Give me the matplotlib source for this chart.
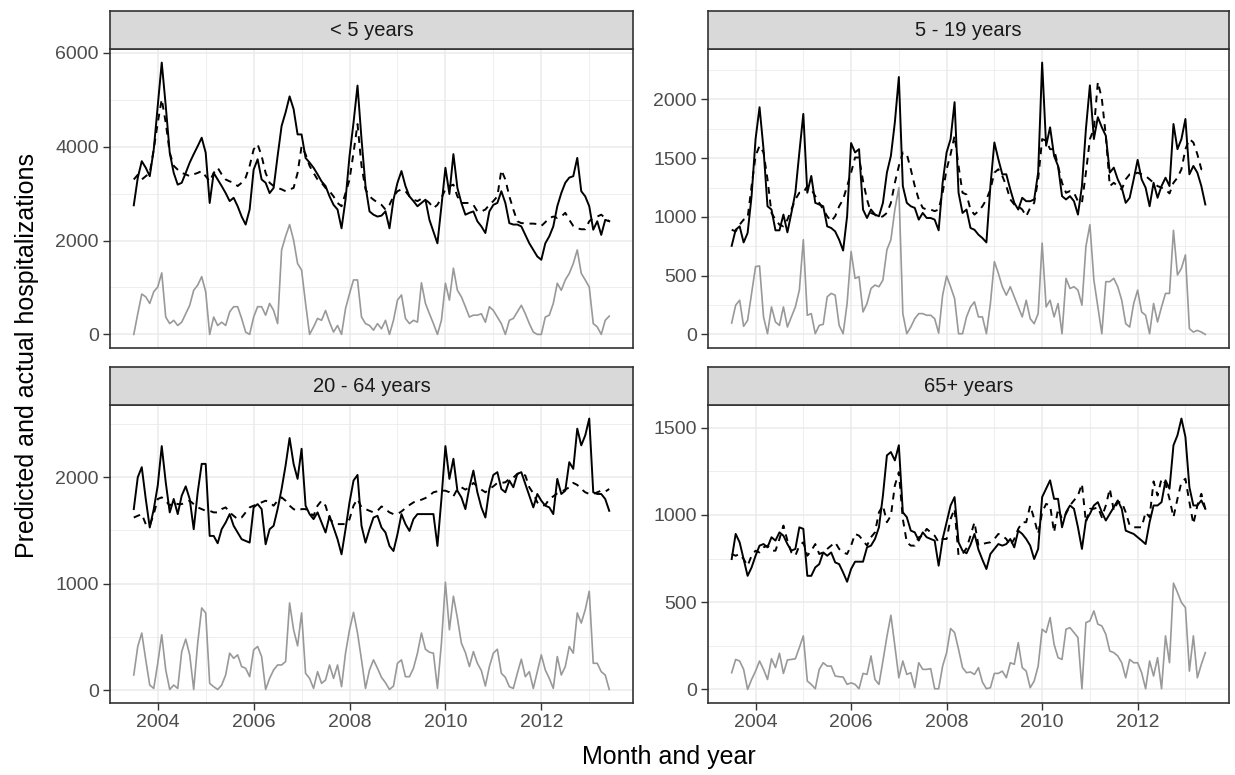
import numpy as np
import pandas as pd
import matplotlib
matplotlib.use("Agg")
import matplotlib.pyplot as plt
from matplotlib.ticker import FixedLocator, NullFormatter

plt.rcParams['font.family'] = ['Liberation Sans', 'DejaVu Sans']

# monthly series, Jul 2003 - Jun 2013
dates = pd.date_range("2003-07-01", periods=120, freq="MS")
x = dates.year + (dates.month - 1) / 12.0

panels = ["< 5 years", "5 - 19 years", "20 - 64 years", "65+ years"]

u5_actual = [2750, 3335, 3690, 3550, 3370, 3940, 4870, 5790, 4870, 3870,
             3440, 3190, 3230, 3440, 3660, 3840, 4010, 4190, 3870, 2800,
             3440, 3300, 3160, 3010, 2840, 2910, 2730, 2510, 2340, 2660,
             3510, 3730, 3300, 3230, 3010, 3120, 3800, 4440, 4730, 5070,
             4800, 4260, 4260, 3760, 3660, 3550, 3410, 3260, 3160, 2940,
             2760, 2660, 2260, 2870, 3800, 4510, 5300, 4160, 3160, 2620,
             2550, 2510, 2530, 2620, 2260, 2870, 3230, 3480, 3160, 2940,
             2840, 2730, 2800, 2870, 2440, 2190, 1940, 2730, 3550, 2990,
             3840, 3120, 2800, 2550, 2590, 2620, 2410, 2300, 2160, 2620,
             2760, 2800, 3050, 2800, 2370, 2340, 2340, 2300, 2120, 1940,
             1800, 1660, 1590, 1940, 2090, 2300, 2730, 3010, 3230, 3340,
             3370, 3760, 3050, 2940, 2730, 2230, 2410, 2120, 2440, 2410]
u5_pred = [3300, 3400, 3300, 3370, 3440, 3940, 4510, 5010, 4510, 3870,
           3590, 3510, 3440, 3410, 3370, 3410, 3440, 3480, 3370, 3260,
           3440, 3550, 3410, 3300, 3260, 3230, 3160, 3230, 3340, 3590,
           3940, 4050, 3800, 3440, 3230, 3160, 3120, 3090, 3050, 3090,
           3120, 3440, 4010, 3840, 3590, 3440, 3300, 3230, 3120, 3050,
           2940, 2800, 2730, 3010, 3300, 3870, 4480, 3590, 3090, 2940,
           2870, 2810, 2760, 2660, 2760, 2940, 3050, 3090, 3050, 2940,
           2870, 2840, 2890, 2870, 2800, 2690, 2760, 2910, 3090, 3160,
           3190, 2940, 2800, 2800, 2800, 2760, 2620, 2620, 2660, 2760,
           2840, 2940, 3500, 3300, 2940, 2660, 2410, 2370, 2370, 2360,
           2360, 2350, 2310, 2390, 2480, 2510, 2480, 2510, 2590, 2440,
           2310, 2260, 2240, 2240, 2410, 2480, 2510, 2550, 2480, 2410]
u5_diff = [0, 440, 860, 800, 660, 910, 1010, 1310, 370, 230,
           300, 190, 260, 440, 620, 940, 1050, 1230, 910, 0,
           370, 190, 260, 190, 480, 590, 590, 340, 50, 0,
           370, 590, 590, 410, 660, 510, 230, 1800, 2090, 2340,
           2010, 1510, 1370, 660, 0, 160, 340, 300, 510, 260,
           50, 190, 0, 550, 870, 1160, 1160, 370, 230, 190,
           90, 230, 120, 300, 0, 300, 730, 840, 340, 230,
           300, 260, 1100, 660, 440, 230, 0, 300, 1090, 730,
           1410, 940, 800, 590, 370, 410, 410, 440, 260, 590,
           510, 370, 230, 0, 300, 340, 480, 620, 440, 230,
           50, 0, 0, 370, 410, 660, 1090, 940, 1160, 1300,
           1510, 1800, 1300, 1160, 1010, 230, 160, 0, 300, 390]

y519_actual = [754, 891, 920, 783, 863, 1177, 1663, 1934, 1577, 1091,
               1063, 886, 886, 1020, 869, 1034, 1206, 1549, 1877, 1206,
               1349, 1120, 1106, 1091, 920, 906, 877, 806, 714, 1006,
               1629, 1549, 1577, 1063, 991, 1063, 1020, 1006, 1120, 1377,
               1520, 1806, 2191, 1263, 1120, 1091, 1077, 977, 1034, 991,
               991, 977, 886, 1291, 1549, 1663, 1977, 1206, 1034, 1063,
               906, 891, 849, 820, 783, 1263, 1634, 1491, 1363, 1363,
               1234, 1120, 1063, 1163, 1134, 1134, 1149, 1377, 2314, 1606,
               1763, 1520, 1434, 1177, 1149, 1177, 1134, 1020, 1263, 1749,
               2120, 1663, 1849, 1763, 1691, 1377, 1420, 1320, 1249, 1120,
               1163, 1320, 1486, 1320, 1249, 1091, 1291, 1163, 1263, 1334,
               1263, 1791, 1577, 1663, 1834, 1363, 1434, 1377, 1263, 1106]
y519_pred = [891, 877, 934, 977, 991, 1263, 1520, 1606, 1549, 1320,
             1034, 977, 934, 920, 977, 1063, 1149, 1206, 1206, 1263,
             1234, 1177, 1120, 1063, 1006, 963, 1006, 1091, 1149, 1263,
             1377, 1506, 1506, 1306, 1149, 1034, 1020, 991, 1006, 1034,
             1120, 1291, 1434, 1549, 1534, 1406, 1263, 1149, 1077, 1063,
             1063, 1049, 1063, 1206, 1406, 1534, 1691, 1434, 1206, 1191,
             1063, 1020, 1049, 1091, 1149, 1234, 1377, 1406, 1349, 1263,
             1149, 1106, 1091, 1063, 1006, 1077, 1120, 1320, 1663, 1649,
             1577, 1577, 1434, 1291, 1206, 1220, 1206, 1134, 1120, 1377,
             1663, 1749, 2149, 2006, 1691, 1263, 1291, 1263, 1234, 1320,
             1363, 1363, 1377, 1363, 1349, 1320, 1291, 1263, 1249, 1234,
             1200, 1291, 1334, 1406, 1577, 1663, 1634, 1534, 1406, 1391]
y519_diff = [97, 249, 291, 69, 120, 349, 577, 583, 149, 6,
             234, 106, 77, 234, 63, 149, 234, 377, 806, 163,
             177, 6, 77, 86, 320, 349, 334, 77, 6, 263,
             706, 477, 491, 191, 263, 391, 420, 406, 463, 720,
             806, 1063, 1249, 177, 6, 63, 134, 177, 177, 163,
             163, 134, 11, 334, 497, 406, 306, 6, 6, 149,
             234, 277, 149, 149, 6, 263, 620, 520, 406, 334,
             406, 320, 234, 149, 291, 134, 91, 177, 777, 234,
             291, 149, 263, 6, 477, 391, 406, 377, 249, 749,
             934, 463, 234, 6, 449, 449, 477, 406, 291, 91,
             63, 263, 377, 191, 163, 6, 263, 106, 234, 349,
             349, 886, 506, 563, 677, 49, 20, 34, 20, 0]

y2064_actual = [1701, 2000, 2095, 1796, 1528, 1701, 1922, 2293, 1953, 1670,
                1796, 1654, 1827, 1915, 1796, 1512, 1859, 2126, 2126, 1449,
                1449, 1380, 1512, 1575, 1654, 1544, 1481, 1418, 1402, 1386,
                1717, 1748, 1701, 1370, 1512, 1544, 1701, 1890, 2111, 2369,
                2126, 1985, 2268, 1733, 1654, 1607, 1670, 1575, 1481, 1638,
                1528, 1418, 1276, 1512, 1764, 1969, 2022, 1544, 1386, 1512,
                1622, 1638, 1528, 1481, 1355, 1307, 1465, 1654, 1560, 1496,
                1607, 1654, 1654, 1654, 1654, 1654, 1355, 1796, 2293, 1985,
                2174, 1874, 1811, 1701, 1906, 2063, 1859, 1717, 1622, 1890,
                2022, 2048, 1890, 1859, 1969, 1906, 2032, 2048, 1937, 1827,
                1717, 1843, 1780, 1733, 1717, 1654, 1985, 1843, 1874, 2142,
                2079, 2457, 2300, 2394, 2552, 1859, 1843, 1843, 1796, 1685]
y2064_pred = [1622, 1638, 1654, 1560, 1544, 1654, 1796, 1811, 1780, 1733,
              1764, 1748, 1748, 1764, 1780, 1748, 1717, 1701, 1685, 1685,
              1670, 1670, 1701, 1717, 1670, 1638, 1607, 1622, 1670, 1717,
              1733, 1748, 1764, 1780, 1764, 1733, 1780, 1811, 1780, 1733,
              1701, 1685, 1701, 1701, 1670, 1638, 1733, 1780, 1733, 1607,
              1575, 1560, 1560, 1560, 1607, 1733, 1796, 1717, 1701, 1685,
              1670, 1685, 1726, 1701, 1670, 1654, 1654, 1679, 1710, 1739,
              1764, 1780, 1789, 1805, 1827, 1859, 1868, 1874, 1874, 1859,
              1821, 1890, 1906, 1884, 1906, 1947, 1915, 1884, 1859, 1890,
              1915, 1947, 1947, 1953, 1985, 1997, 2032, 2041, 2016, 1906,
              1849, 1764, 1733, 1739, 1796, 1821, 1849, 1865, 1884, 1906,
              1947, 1928, 1890, 1859, 1843, 1843, 1859, 1874, 1865, 1890]
y2064_diff = [142, 410, 536, 284, 47, 16, 252, 520, 189, 6,
              47, 16, 362, 479, 331, 6, 441, 772, 725, 63,
              32, 6, 47, 142, 347, 299, 331, 221, 205, 126,
              378, 410, 315, 6, 110, 189, 236, 236, 268, 819,
              567, 416, 725, 158, 110, 16, 173, 63, 95, 236,
              110, 236, 32, 347, 567, 731, 536, 284, 16, 189,
              284, 205, 120, 69, 6, 38, 252, 284, 126, 126,
              205, 347, 536, 384, 356, 347, 16, 441, 1014, 567,
              882, 677, 441, 353, 221, 362, 252, 183, 38, 221,
              347, 384, 158, 120, 32, 16, 158, 290, 126, 173,
              16, 173, 331, 189, 110, 16, 315, 142, 221, 410,
              347, 725, 630, 756, 929, 252, 252, 173, 142, 6]

y65_actual = [747, 891, 843, 747, 651, 699, 766, 824, 833, 814,
              872, 853, 900, 881, 833, 795, 805, 929, 920, 651,
              651, 699, 718, 785, 766, 785, 728, 718, 670, 617,
              690, 732, 732, 732, 814, 824, 862, 929, 1111, 1341,
              1360, 1312, 1399, 1015, 987, 910, 900, 853, 900, 872,
              862, 853, 709, 862, 958, 1054, 1102, 843, 795, 780,
              828, 891, 801, 743, 690, 776, 805, 833, 824, 833,
              862, 814, 910, 891, 862, 824, 747, 805, 1102, 1150,
              1198, 1092, 1092, 929, 1015, 1054, 1035, 929, 805, 968,
              1006, 1054, 1073, 1015, 968, 1006, 1044, 1083, 1035, 910,
              900, 891, 872, 853, 833, 958, 1054, 1054, 1073, 1198,
              1150, 1399, 1456, 1552, 1447, 1159, 1054, 1054, 1083, 1035]
y65_pred = [776, 766, 776, 747, 709, 766, 795, 785, 814, 824,
            795, 795, 862, 939, 853, 785, 766, 824, 843, 766,
            795, 833, 776, 785, 805, 824, 843, 805, 785, 776,
            824, 891, 881, 853, 824, 872, 900, 1015, 1054, 958,
            996, 1169, 1245, 977, 843, 824, 824, 872, 881, 920,
            900, 881, 843, 862, 862, 977, 1035, 766, 776, 809,
            881, 958, 824, 833, 839, 843, 862, 891, 881, 862,
            824, 862, 920, 958, 958, 1054, 977, 891, 1015, 1063,
            1054, 900, 1035, 977, 1006, 1054, 1083, 1111, 1178, 958,
            1035, 1035, 1044, 987, 1054, 1150, 1025, 1073, 1073, 1015,
            939, 929, 929, 929, 1015, 987, 1192, 1111, 1207, 1178,
            1092, 987, 1092, 1188, 1207, 1073, 948, 1054, 1121, 1035]
y65_diff = [96, 172, 163, 115, 0, 57, 105, 163, 115, 57,
            176, 125, 207, 92, 169, 172, 176, 240, 307, 48,
            29, 4, 115, 153, 134, 134, 77, 73, 71, 29,
            38, 29, 4, 92, 86, 192, 57, 29, 163, 303,
            425, 249, 67, 163, 86, 96, 10, 153, 115, 115,
            119, 4, 4, 134, 211, 349, 326, 230, 125, 96,
            100, 86, 125, 42, 4, 10, 92, 92, 105, 67,
            153, 144, 268, 125, 105, 10, 48, 134, 345, 326,
            412, 259, 182, 172, 345, 354, 326, 297, 4, 383,
            393, 450, 374, 364, 316, 220, 211, 192, 153, 67,
            172, 153, 153, 96, 4, 163, 77, 182, 4, 307,
            153, 609, 556, 498, 469, 105, 307, 67, 144, 211]

actual = [u5_actual, y519_actual, y2064_actual, y65_actual]
pred = [u5_pred, y519_pred, y2064_pred, y65_pred]
diff = [u5_diff, y519_diff, y2064_diff, y65_diff]
y_major = [[0, 2000, 4000, 6000], [0, 500, 1000, 1500, 2000],
           [0, 1000, 2000], [0, 500, 1000, 1500]]

W, H = 1235, 775
fig = plt.figure(figsize=(W / 100, H / 100), dpi=100)

# panel boxes in pixels: left, top, right, bottom
boxes = [(110, 49, 633, 348), (708, 49, 1229, 348),
         (110, 405, 633, 703), (708, 405, 1229, 703)]
strip_h = 38

border = "#333333"
grid = "#EBEBEB"

xlo, xhi = x.min(), x.max()
xpad = 0.05 * (xhi - xlo)
years_major = [2004, 2006, 2008, 2010, 2012]
years_minor = [2003, 2005, 2007, 2009, 2011, 2013]

for k in range(4):
    l, t, r, b = boxes[k]
    ax = fig.add_axes([l / W, 1 - b / H, (r - l) / W, (b - t) / H])
    a = np.array(actual[k]); p = np.array(pred[k]); d = np.array(diff[k])
    ax.plot(x, d, color="#999999", lw=1.2, zorder=3)
    ax.plot(x, a, color="black", lw=1.4, zorder=4)
    ax.plot(x, p, color="black", lw=1.4, dashes=(3.5, 3), zorder=4)

    lo = min(a.min(), p.min(), d.min())
    hi = max(a.max(), p.max(), d.max())
    pad = 0.05 * (hi - lo)
    ax.set_ylim(lo - pad, hi + pad)
    ax.set_xlim(xlo - xpad, xhi + xpad)

    maj = y_major[k]
    step = maj[1] - maj[0]
    ymin = [v + step / 2 for v in [maj[0] - step] + maj]
    ax.yaxis.set_major_locator(FixedLocator(maj))
    ax.yaxis.set_minor_locator(FixedLocator(ymin))
    ax.xaxis.set_major_locator(FixedLocator(years_major))
    ax.xaxis.set_minor_locator(FixedLocator(years_minor))
    ax.yaxis.set_minor_formatter(NullFormatter())
    ax.set_yticklabels([str(v) for v in maj])
    ax.grid(True, which="major", color=grid, lw=1.1, zorder=0)
    ax.grid(True, which="minor", color=grid, lw=0.6, zorder=0)
    ax.set_axisbelow(True)

    ax.tick_params(axis="both", which="minor", length=0)
    ax.tick_params(axis="both", which="major", length=5, width=1.0,
                   color=border, labelcolor="#4D4D4D", labelsize=14, pad=3)
    if k < 2:
        ax.tick_params(axis="x", which="major", length=0, labelbottom=False)
    else:
        ax.set_xticklabels([str(v) for v in years_major])
    for s in ax.spines.values():
        s.set_color(border)
        s.set_linewidth(1.2)

    # facet strip
    sx = fig.add_axes([l / W, 1 - t / H, (r - l) / W, strip_h / H])
    sx.set_facecolor("#D9D9D9")
    sx.set_xticks([]); sx.set_yticks([])
    for s in sx.spines.values():
        s.set_color(border)
        s.set_linewidth(1.2)
    sx.text(0.5, 0.48, panels[k], ha="center", va="center", fontsize=14.5,
            color="#1A1A1A", transform=sx.transAxes)

fig.text(669 / W, 1 - 757 / H, "Month and year", ha="center", va="center",
         fontsize=18, color="black")
fig.text(27 / W, 1 - 356 / H, "Predicted and actual hospitalizations",
         ha="center", va="center", rotation=90, fontsize=18, color="black")

fig.savefig("out.png", dpi=100)
